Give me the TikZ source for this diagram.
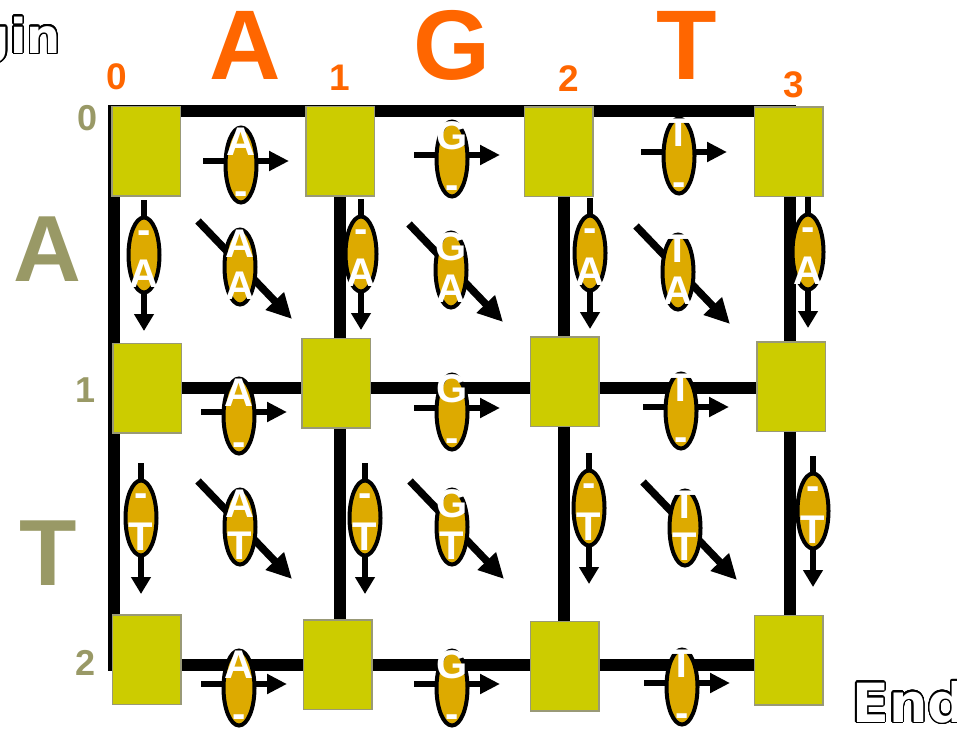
\documentclass[tikz,border=0pt]{standalone}
\usepackage{fontspec}
\usepackage[copies]{contour}
\usetikzlibrary{shapes.geometric,arrows.meta}
\setmainfont{Liberation Sans}
\newfontfamily\dvs{DejaVu Sans}
\definecolor{boxc}{HTML}{CCCC00}
\definecolor{boxb}{HTML}{999977}
\definecolor{ellc}{HTML}{DDAA00}
\definecolor{orng}{HTML}{FF6600}
\definecolor{olv}{HTML}{999966}
\contourlength{1.3pt}
\contournumber{32}
\tikzset{
  gl/.style={line width=12pt, line cap=rect, draw=black},
  bx/.style={rectangle, fill=boxc, draw=boxb, line width=1.5pt, minimum width=68.5pt, minimum height=89.5pt, inner sep=0pt},
  ell/.style={ellipse, draw=black, line width=4pt, fill=ellc, minimum width=31pt, minimum height=75pt, inner sep=0pt},
  ltr/.style={text=white, font=\bfseries\fontsize{40}{40}\selectfont, inner sep=0pt, anchor=base},
  sarrow/.style={line width=5.5pt, -{Triangle[length=20pt,width=19pt]}},
  varrow/.style={line width=5.5pt, -{Triangle[length=17pt,width=19pt]}},
  darrow/.style={line width=7.5pt, -{Triangle[length=25pt,width=24pt]}},
  bigo/.style={text=orng, font=\bfseries\fontsize{99}{99}\selectfont, inner sep=0pt, anchor=base},
  numo/.style={text=orng, font=\bfseries\fontsize{37}{37}\selectfont, inner sep=0pt, anchor=base},
  bigl/.style={text=olv, font=\bfseries\fontsize{94}{94}\selectfont, inner sep=0pt, anchor=base},
  numl/.style={text=olv, font=\bfseries\fontsize{36}{36}\selectfont, inner sep=0pt, anchor=base},
  outl/.style={text=white, font=\dvs\bfseries\fontsize{54}{54}\selectfont, inner sep=0pt},
  outs/.style={text=white, font=\dvs\bfseries\fontsize{48}{48}\selectfont, inner sep=0pt}
}
\newcommand\HEll[4]{%
  \coordinate (#1) at (#2,#3);
  \draw[sarrow] ([shift={(-38,-4)}]#1) -- ([shift={(48,-4)}]#1);
  \node[ell] (#1e) at (#1) {};
  \node[ltr] (#1t) at ([yshift=10pt]#1) {#4};
  \node[ltr] (#1b) at ([yshift=-39pt]#1) {-};
}
\newcommand\VEll[4]{%
  \coordinate (#1) at (#2,#3);
  \draw[varrow] ([yshift=55pt]#1) -- ([yshift=-76pt]#1);
  \node[ell] (#1e) at (#1) {};
  \node[ltr] (#1t) at ([yshift=12pt]#1) {-};
  \node[ltr] (#1b) at ([yshift=-32pt]#1) {#4};
}
\newcommand\DEll[5]{%
  \coordinate (#1) at (#2,#3);
  \draw[darrow] ([shift={(-42,-46)}]#1) -- ([shift={(52,52)}]#1);
  \node[ell] (#1e) at (#1) {};
  \node[ltr] (#1t) at ([yshift=10pt]#1) {#4};
  \node[ltr] (#1b) at ([yshift=-32pt]#1) {#5};
}
\begin{document}
\begin{tikzpicture}[x=1pt,y=-1pt]
\useasboundingbox (0,0) rectangle (957,728);
\fill[white] (0,0) rectangle (957,728);
% grid coordinates
\coordinate (g00) at (114,111); \coordinate (g01) at (340,111);
\coordinate (g02) at (564,111); \coordinate (g03) at (790,111);
\coordinate (g10) at (114,388); \coordinate (g13) at (790,388);
\coordinate (g20) at (114,665); \coordinate (g21) at (340,665);
\coordinate (g22) at (564,665); \coordinate (g23) at (790,665);
\draw[gl] (g00) -- (g03);
\draw[gl] (g10) -- (g13);
\draw[gl] (g20) -- (g23);
\draw[gl] (g00) -- (g20);
\draw[gl] (g01) -- (g21);
\draw[gl] (g02) -- (g22);
\draw[gl] (g03) -- (g23);
% boxes
\node[bx] (b00) at (146,151) {};
\node[bx] (b01) at (340,151) {};
\node[bx] (b02) at (558.5,151.5) {};
\node[bx] (b03) at (788.5,151.5) {};
\node[bx] (b10) at (147,388) {};
\node[bx] (b11) at (336,383) {};
\node[bx] (b12) at (564.5,381.5) {};
\node[bx] (b13) at (791,386.5) {};
\node[bx] (b20) at (146.5,659.5) {};
\node[bx] (b21) at (337.5,664.5) {};
\node[bx] (b22) at (564.5,666) {};
\node[bx] (b23) at (788.5,660) {};
% horizontal edges
\HEll{h00}{241}{165}{A}
\HEll{h01}{452}{159}{G}
\HEll{h02}{679}{156}{T}
\HEll{h10}{239}{416}{A}
\HEll{h11}{452}{412}{G}
\HEll{h12}{681}{411}{T}
\HEll{h20}{239}{688}{A}
\HEll{h21}{452}{688}{G}
\HEll{h22}{682}{687}{T}
% vertical edges
\VEll{v00}{144}{255}{A}
\VEll{v01}{361}{254}{A}
\VEll{v02}{590}{253}{A}
\VEll{v03}{808}{252}{A}
\VEll{v10}{141}{518}{T}
\VEll{v11}{365}{518}{T}
\VEll{v12}{589}{508}{T}
\VEll{v13}{813}{511}{T}
% diagonal edges
\DEll{d00}{240}{267}{A}{A}
\DEll{d01}{451}{270}{G}{A}
\DEll{d02}{678}{272}{T}{A}
\DEll{d10}{240}{527}{A}{T}
\DEll{d11}{452}{527}{G}{T}
\DEll{d12}{685}{528}{T}{T}
% top sequence
\node[bigo] (sA) at (245.5,79) {A};
\node[bigo] (sG) at (452,79) {G};
\node[bigo] (sT) at (687,79) {T};
\node[numo] (n0) at (117,89) {0};
\node[numo] (n1) at (340,90) {1};
\node[numo] (n2) at (569,91) {2};
\node[numo] (n3) at (794,97) {3};
% left sequence
\node[bigl] (lA) at (47,281) {A};
\node[bigl] (lT) at (48,585) {T};
\node[numl] (m0) at (88,130) {0};
\node[numl] (m1) at (86,402) {1};
\node[numl] (m2) at (86,675) {2};
% begin / end
\node[outs, anchor=base east] (beg) at (61,53) {\contour{black}{Begin}};
\node[outl, anchor=base west] (fin) at (852,722) {\contour{black}{End}};
\end{tikzpicture}
\end{document}
